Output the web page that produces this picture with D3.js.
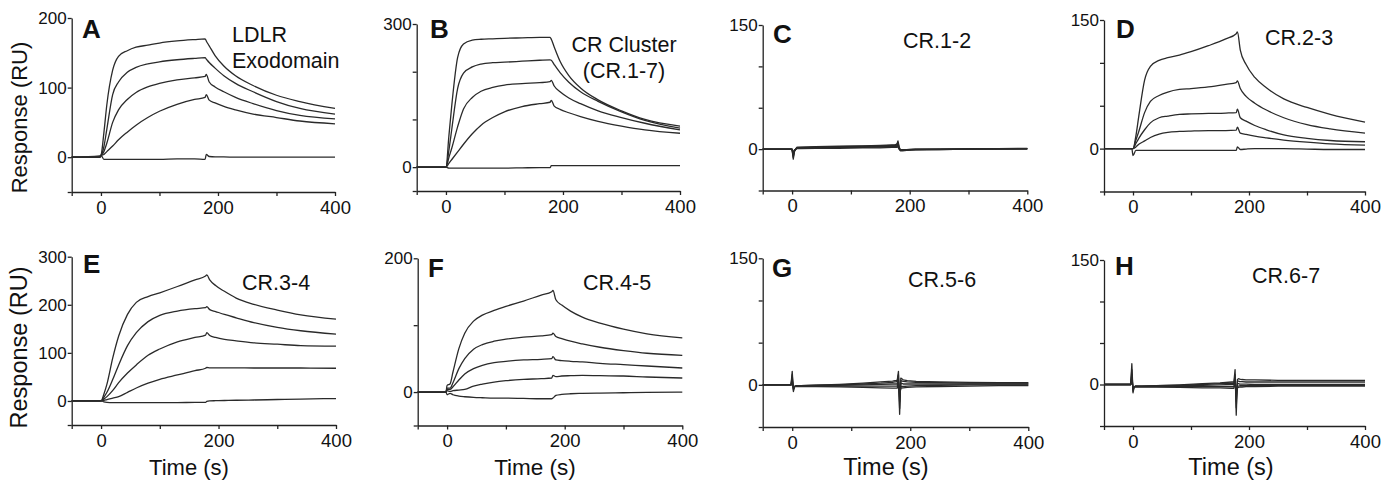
<!DOCTYPE html>
<meta charset="utf-8">
<head>
  <!-- D3 -->
  <script src="https://cdn.jsdelivr.net/npm/d3@7"></script>
  <style>
    body { margin: 0; background: #fff; }
    svg text { font-family: "Liberation Sans", Arial, sans-serif; fill: #111; }
    .curve { fill: none; stroke: #2a2a2a; stroke-width: 1.3; stroke-linejoin: round; }
    .axis path, .axis line { stroke: #222; stroke-width: 1.3; shape-rendering: auto; }
  </style>
</head>
<body>
<script>

// time points (s) of the sensorgram traces
var tSmooth = [-50, -2, 0, 5, 10, 20, 30, 45, 60, 80, 100, 130, 160, 178, 180, 185, 195, 210, 230, 260, 300, 340, 400];
var tSpike  = [-50, -4, -2, 0, 2, 4, 8, 15, 40, 80, 120, 150, 170, 174, 176, 178, 180, 182, 184, 188, 195, 210, 250, 300, 350, 400];

// A - LDLR exodomain (RU)
var A1 = [0, 0, 2, 35, 75, 125, 145, 153, 158, 161, 164, 167, 169, 170, 167, 160, 146, 131, 117, 103, 89, 80, 70];
var A2 = [0, 0, 2, 15, 40, 90, 108, 122, 129, 134, 137, 140, 142, 143, 141, 136, 128, 117, 106, 94, 80, 70, 62];
var A3 = [0, 0, 2, 8, 20, 50, 68, 83, 93, 101, 106, 111, 114, 116, 119, 108, 101, 94, 86, 77, 67, 60, 55];
var A4 = [0, 0, 2, 4, 8, 16, 25, 36, 46, 57, 66, 76, 83, 86, 90, 82, 78, 73, 68, 62, 57, 52, 48];
var A5 = [0, 2, 3, -3, -3, -3, -3, -3, -3, -3, -3, -2.5, -2.5, -3, 4, 1, 0.5, 0.5, 0, 0, 0, 0, 0];

// B - CR cluster (CR.1-7)
var B1 = [0, 0, 0, 65, 130, 230, 258, 266, 268, 269, 270, 271, 272, 272, 268, 252, 222, 192, 166, 141, 118, 100, 86];
var B2 = [0, 0, 0, 35, 80, 165, 197, 210, 216, 219, 220, 222, 224, 225, 224, 215, 198, 178, 158, 138, 116, 98, 82];
var B3 = [0, 0, 0, 20, 40, 85, 122, 146, 159, 167, 172, 175, 177, 179, 182, 170, 158, 145, 133, 118, 104, 92, 78];
var B4 = [0, 0, 0, 8, 16, 32, 48, 70, 88, 104, 116, 127, 133, 136, 140, 128, 121, 114, 106, 96, 86, 78, 71];
var B5 = [0, 0, 0, -2, -2, -2, -2, -2, -2, -2, -2, -1.5, -1, -1, 3, 3, 3, 3, 3, 3, 3, 3, 3];

// C - CR.1-2
var C1 = [0, 0, 0, -1, -12, -3, 2, 2, 2.5, 3, 3.5, 4, 4.5, 4.5, 4.5, 5, 10, 3, -1, -1, -0.5, 0, 0, 0.5, 0.5, 1];
var C2 = [0, 0, 0, -1, -10, -2, 2, 2.5, 3, 3.5, 4, 4.5, 5, 5, 5.5, 6, 8, 2, -1.5, -1.5, -1, -0.5, 0, 0, 0.5, 0.5];
var C3 = [0, 0, 0, 0, -8, -2, 1.5, 1.5, 2, 2.5, 3, 3, 3.5, 3.5, 4, 4, 6, 1, -2, -2, -1.5, -1, -0.5, 0, 0, 0.5];
var C4 = [0, 0, 0, 0, -6, -1, 1, 1, 1.5, 2, 2, 2.5, 2.5, 3, 3, 3, 5, 0.5, -1, -1, -1, -0.5, -0.5, 0, 0, 0];
var C5 = [0, 0, 0, 0, -4, -1, 0.5, 0.5, 1, 1, 1.5, 1.5, 2, 2, 2, 2, 3, 0, -0.5, -0.5, -0.5, 0, 0, 0, 0.5, 0.5];

// D - CR.2-3
var D1 = [0, 0, 0, 15, 38, 80, 96, 103, 106, 109, 113, 120, 128, 134, 136, 115, 98, 83, 71, 58, 48, 40, 31];
var D2 = [0, 0, 0, 10, 20, 42, 55, 62, 66, 69, 70, 72, 75, 77, 79, 70, 61, 53, 45, 36, 28, 23, 18];
var D3 = [0, 0, 0, 6, 12, 22, 30, 36, 38, 40, 40.5, 41, 41.5, 42, 46, 36, 32, 27, 22, 16, 12, 9.5, 8];
var D4 = [0, 0, 0, 2, 5, 9, 13, 17, 19, 20, 20.5, 21, 21, 21.5, 25, 18, 16.5, 14.5, 12.5, 10, 7.5, 5.5, 4];
var D5 = [0, 0, -8, -2, -2, -2, -2, -2, -2, -2, -2, -2, -2, -2, 2, -1, -0.5, 0, 0, 0, -0.5, -1, -1];

// E - CR.3-4
var E1 = [0, 0, 0, 15, 35, 90, 135, 180, 205, 217, 225, 238, 252, 260, 262, 252, 240, 228, 214, 201, 189, 179, 170];
var E2 = [0, 0, 0, 8, 18, 45, 75, 115, 142, 165, 178, 187, 192, 194, 196, 190, 186, 180, 173, 163, 153, 146, 139];
var E3 = [0, 0, 0, 4, 9, 22, 38, 58, 75, 95, 108, 123, 132, 137, 142, 136, 132, 128, 125, 121, 118, 115, 114];
var E4 = [0, 0, 0, 1, 3, 6, 9, 18, 27, 37, 45, 54, 63, 68, 70, 69, 69, 69, 69, 68.5, 68.5, 68.5, 68];
var E5 = [0, 0, 1, -2, -3, -3.5, -3.5, -3.5, -3.5, -3.5, -3.5, -3.5, -3, -3, -1, 0, 0.5, 1, 1.5, 2, 3, 4, 5];

// F - CR.4-5
var F1 = [0, 0, 10, 12, 30, 65, 88, 106, 115, 122, 128, 136, 145, 150, 152, 138, 130, 121, 112, 103, 94, 87, 81];
var F2 = [0, 0, 6, 6, 14, 35, 50, 64, 71, 76, 79, 82, 84, 86, 88, 83, 80, 76, 72, 67, 62, 58, 55];
var F3 = [0, 0, 4, 4, 8, 18, 27, 35, 40, 44, 46, 48, 49, 50, 53, 48, 47, 46, 45, 43, 41, 39, 36];
var F4 = [0, 0, 2, 1, 2, 3, 4, 9, 12, 15, 17, 19, 20, 21, 25, 23, 24, 24.5, 25, 24.5, 24, 22.5, 21];
var F5 = [0, 0, -4, -2, -4, -6, -7, -8, -8.5, -9, -9, -9.5, -10, -10, -9, -5, -3.5, -2.5, -2, -1.5, -1, -0.5, 0];

// G - CR.5-6
var G1 = [0, 0, 0, 16, -8, -2, -1, -1, -0.5, 0.5, 2, 3.5, 4.5, 5, 5, 5.5, 16, -35, 8, 6, 5, 4, 3.5, 3, 2.5, 2.5];
var G2 = [0, 0, 0, 12, -6, -2, -1, -1, -0.5, 0, 1, 2, 3, 3.5, 3.5, 4, 12, -28, 5, 4, 3.5, 3, 2.5, 2, 2, 2];
var G3 = [0, 0, 0, 8, -5, -2, -1, -1, -1, -0.5, 0, 0.5, 1, 1, 1, 1, 8, -20, 2, 1, 1, 1, 1, 1, 1, 1];
var G4 = [0, 0, 0, 5, -4, -2, -1.5, -1.5, -1.5, -1.5, -1.5, -1.5, -1.5, -1.5, -1.5, -1.5, 5, -14, -2, -2, -1.5, -1, -0.5, 0, 0, 0];
var G5 = [0, 0, 0, 3, -3, -2, -2, -2, -2, -2.5, -3, -3.5, -4, -4, -4, -4, 3, -10, -4, -3.5, -3, -2.5, -2, -1.5, -1, -1];

// H - CR.6-7
var H1 = [0, 0, 25, -10, -3, -2, -2, -2, -1.5, -0.5, 1, 2, 3, 3, 18, -37, 6, 7, 6.5, 6, 5.5, 5.5, 5, 5, 5, 5];
var H2 = [0, 0, 18, -8, -3, -2, -2, -2, -1.5, -1, 0, 1, 1.5, 1.5, 12, -28, 4, 4, 3.5, 3.5, 3, 3, 3, 3, 3, 3];
var H3 = [0, 0, 12, -6, -3, -2, -2, -2, -2, -1.5, -1, -0.5, 0, 0, 8, -20, 1, 1, 0.5, 0.5, 0.5, 0, 0, 0, 0, 0];
var H4 = [0, 0, 8, -5, -3, -2.5, -2.5, -2.5, -2.5, -2.5, -2.5, -2.5, -2.5, -2.5, 5, -14, -2, -2, -1.5, -1.5, -1.5, -1, -1, -1, -1, -1];
var H5 = [0, 0, 5, -4, -3, -3, -3, -3, -3, -3.5, -4, -4, -4.5, -4.5, 3, -10, -4, -3.5, -3, -3, -2.5, -2.5, -2, -2, -2, -2];

// axis ticks
var xTicks = [-50, 0, 100, 200, 300, 400];
var xTickLabels = [0, 200, 400];

// layout of the 8 panels
var panels = [
  {letter: "A", t: tSmooth, series: [A1, A2, A3, A4, A5], yMax: 200, yTicks: [-50, 0, 100, 200], yLabels: [0, 100, 200],
   xr: [71.7, 335], yr: [192, 18], lx: 82, ly: 38, note: ["LDLR", "Exodomain"], nx: 232, ny: [42, 68], anchor: "start"},
  {letter: "B", t: tSmooth, series: [B1, B2, B3, B4, B5], yMax: 300, yTicks: [-50, 0, 100, 200, 300], yLabels: [0, 300],
   xr: [416.7, 680], yr: [191, 24], lx: 430, ly: 38, note: ["CR Cluster", "(CR.1-7)"], nx: 624, ny: [52, 78], anchor: "middle"},
  {letter: "C", t: tSpike, series: [C1, C2, C3, C4, C5], yMax: 150, yTicks: [-50, 0, 50, 100, 150], yLabels: [0, 150],
   xr: [762.7, 1027.3], yr: [190.5, 25], lx: 773, ly: 43, note: ["CR.1-2"], nx: 903, ny: [48], anchor: "start"},
  {letter: "D", t: tSmooth, series: [D1, D2, D3, D4, D5], yMax: 150, yTicks: [-50, 0, 50, 100, 150], yLabels: [0, 150],
   xr: [1104, 1365], yr: [191.5, 20], lx: 1116, ly: 38, note: ["CR.2-3"], nx: 1265, ny: [45], anchor: "start"},
  {letter: "E", t: tSmooth, series: [E1, E2, E3, E4, E5], yMax: 300, yTicks: [-50, 0, 100, 200, 300], yLabels: [0, 100, 200, 300],
   xr: [71.7, 336], yr: [425, 256.7], lx: 83, ly: 273, note: ["CR.3-4"], nx: 242, ny: [290], anchor: "start", tx: 189, tfs: 22},
  {letter: "F", t: tSmooth, series: [F1, F2, F3, F4, F5], yMax: 200, yTicks: [-50, 0, 100, 200], yLabels: [0, 200],
   xr: [417.7, 682.3], yr: [425.5, 258.3], lx: 428, ly: 277, note: ["CR.4-5"], nx: 583, ny: [290], anchor: "start", tx: 535, tfs: 22.5},
  {letter: "G", t: tSpike, series: [G1, G2, G3, G4, G5], yMax: 150, yTicks: [-50, 0, 50, 100, 150], yLabels: [0, 150],
   xr: [762.7, 1028.3], yr: [427, 258.3], lx: 772, ly: 277, note: ["CR.5-6"], nx: 908, ny: [287], anchor: "start", tx: 886, tfs: 23.5},
  {letter: "H", t: tSpike, series: [H1, H2, H3, H4, H5], yMax: 150, yTicks: [-50, 0, 50, 100, 150], yLabels: [0, 150],
   xr: [1104, 1365], yr: [426, 260], lx: 1115, ly: 275, note: ["CR.6-7"], nx: 1252, ny: [283], anchor: "start", tx: 1231, tfs: 23.5}
];

var svg = d3.select("body")
  .append("svg")
  .attr("width", 1382)
  .attr("height", 481);

panels.forEach(function(p) {

  var x = d3.scaleLinear().domain([-50, 400]).range(p.xr);
  var y = d3.scaleLinear().domain([-50, p.yMax]).range(p.yr);

  var g = svg.append("g");

  // ejes
  g.append("g")
    .attr("class", "axis")
    .attr("transform", "translate(0," + y(-50) + ")")
    .call(d3.axisBottom(x)
      .tickValues(xTicks)
      .tickFormat(function(d) { return xTickLabels.indexOf(d) >= 0 ? d : ""; })
      .tickSizeInner(4).tickSizeOuter(0).tickPadding(4.5))
    .attr("font-size", 18.5)
    .attr("font-family", null);

  g.append("g")
    .attr("class", "axis")
    .attr("transform", "translate(" + x(-50) + ",0)")
    .call(d3.axisLeft(y)
      .tickValues(p.yTicks)
      .tickFormat(function(d) { return p.yLabels.indexOf(d) >= 0 ? d : ""; })
      .tickSizeInner(4).tickSizeOuter(0).tickPadding(1))
    .attr("font-size", 17)
    .attr("font-family", null);

  // curvas
  var line = d3.line()
    .x(function(d) { return x(d[0]); })
    .y(function(d) { return y(d[1]); })
    .curve(p.t === tSpike ? d3.curveLinear : d3.curveMonotoneX);

  p.series.forEach(function(s) {
    g.append("path")
      .attr("class", "curve")
      .attr("d", line(s.map(function(v, i) { return [p.t[i], v]; })));
  });

  // letra del panel
  g.append("text")
    .attr("x", p.lx).attr("y", p.ly)
    .attr("font-size", 26).attr("font-weight", "bold")
    .text(p.letter);

  // nota
  p.note.forEach(function(txt, i) {
    g.append("text")
      .attr("x", p.nx).attr("y", p.ny[i])
      .attr("text-anchor", p.anchor)
      .attr("font-size", 21.5)
      .text(txt);
  });

  if (p.tx) {
    g.append("text")
      .attr("x", p.tx).attr("y", 475)
      .attr("text-anchor", "middle")
      .attr("font-size", p.tfs)
      .text("Time (s)");
  }
});

// titulo eje y
svg.append("text")
  .attr("transform", "translate(27,117.5) rotate(-90)")
  .attr("text-anchor", "middle")
  .attr("font-size", 22)
  .text("Response (RU)");

svg.append("text")
  .attr("transform", "translate(27,347.5) rotate(-90)")
  .attr("text-anchor", "middle")
  .attr("font-size", 23.5)
  .text("Response (RU)");

</script>
</body>
